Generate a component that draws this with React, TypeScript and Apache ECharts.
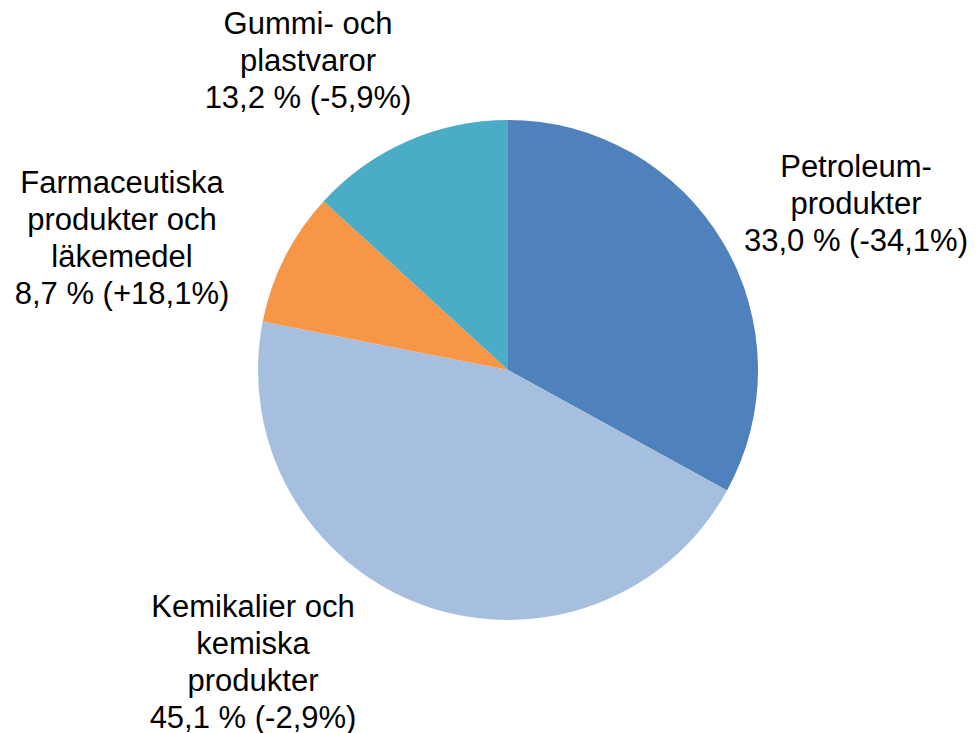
import React, { useEffect, useRef } from "react";
import * as echarts from "echarts";

const categories = [
  "Petroleum-\nprodukter",
  "Kemikalier och\nkemiska\nprodukter",
  "Farmaceutiska\nprodukter och\nläkemedel",
  "Gummi- och\nplastvaror",
];
const shares = [33.0, 45.1, 8.7, 13.2];
const changes = ["-34,1%", "-2,9%", "+18,1%", "-5,9%"];
const colors = ["#4F81BD", "#A7BFDE", "#F79646", "#4BACC6"];
const labelPos = [
  [856, 203],
  [253, 662],
  [122, 238],
  [308, 60],
];

export default function App() {
  const ref = useRef<HTMLDivElement>(null);
  useEffect(() => {
    if (!ref.current) return;
    const chart = echarts.init(ref.current, null, { renderer: "svg" });
    chart.setOption({
      animation: false,
      backgroundColor: "#ffffff",
      series: [
        {
          type: "pie",
          center: [508, 370],
          radius: [0, 250],
          startAngle: 90,
          clockwise: true,
          data: categories.map((name, i) => ({
            name,
            value: shares[i],
            itemStyle: { color: colors[i] },
          })),
          itemStyle: { borderWidth: 0 },
          label: {
            show: true,
            position: "outside",
            fontFamily: "Liberation Sans, Arial, sans-serif",
            fontSize: 31,
            lineHeight: 37,
            color: "#000000",
            align: "center",
            overflow: "none",
            width: 400,
            formatter: (p: any) =>
              `${p.name}\n${shares[p.dataIndex].toFixed(1).replace(".", ",")} % (${changes[p.dataIndex]})`,
          },
          labelLine: { show: false },
          labelLayout: (p: any) => ({
            x: labelPos[p.dataIndex][0],
            y: labelPos[p.dataIndex][1],
            align: "center",
            verticalAlign: "middle",
          }),
        },
      ],
    });
    return () => chart.dispose();
  }, []);
  return (
    <div
      ref={ref}
      style={{ position: "fixed", left: 0, top: 0, width: 980, height: 733 }}
    />
  );
}
